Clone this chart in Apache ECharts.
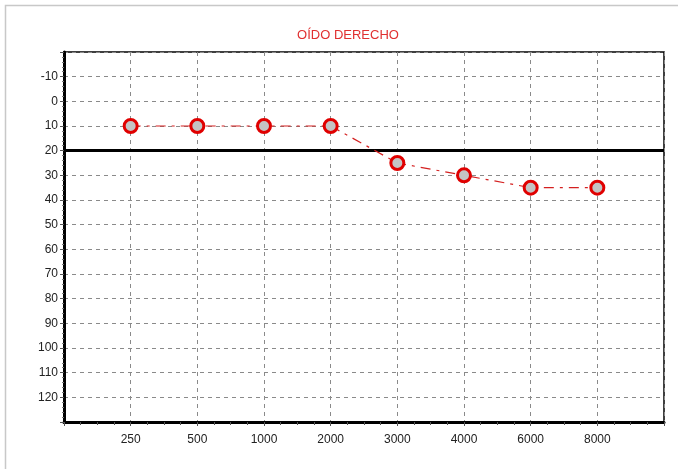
<!DOCTYPE html>
<html>
<head>
<meta charset="utf-8">
<script src="https://cdn.jsdelivr.net/npm/echarts@6/dist/echarts.min.js"></script>
<style>html,body{margin:0;padding:0;background:#fff}#c{width:678px;height:469px}</style>
</head>
<body>
<div id="c"></div>
<script>
var categories = ['250', '500', '1000', '2000', '3000', '4000', '6000', '8000'];
var positions = [1, 2, 3, 4, 5, 6, 7, 8];
var thresholds = [10, 10, 10, 10, 25, 30, 35, 35];
var yTicks = [-10, 0, 10, 20, 30, 40, 50, 60, 70, 80, 90, 100, 110, 120];
var referenceLevel = 20;

var font = "'Liberation Sans', Arial, sans-serif";
var chart = echarts.init(document.getElementById('c'));
var data = positions.map(function (p, i) { return [p, thresholds[i]]; });

chart.setOption({
  animation: false,
  title: {
    text: 'OÍDO DERECHO', left: 343, top: 24, textAlign: 'center',
    textStyle: { color: '#e03030', fontSize: 13, fontWeight: 'normal', fontFamily: font }
  },
  graphic: [{
    type: 'rect', shape: { x: 5.5, y: 5.5, width: 700, height: 500 },
    style: { fill: 'none', stroke: '#c8c8c8', lineWidth: 1.5 }, silent: true
  }],
  grid: { left: 64, right: 14, top: 52, bottom: 47, show: true, borderColor: '#000', borderWidth: 1.5, backgroundColor: '#fff' },
  xAxis: {
    type: 'value', min: 0, max: 9, interval: 1,
    axisLine: { show: true, onZero: false, lineStyle: { color: '#000', width: 3 } },
    axisTick: { show: true, length: 4, lineStyle: { color: '#555' } },
    minorTick: { show: true, splitNumber: 4, length: 3, lineStyle: { color: '#555' } },
    splitLine: { show: true, lineStyle: { color: '#8a8a8a', type: [4, 4], width: 1 } },
    axisLabel: {
      color: '#222', fontSize: 12, fontFamily: font, margin: 12,
      formatter: function (v) { var i = positions.indexOf(v); return i >= 0 ? categories[i] : ''; }
    }
  },
  yAxis: {
    type: 'value', inverse: true, min: -20, max: 130, interval: 10,
    axisLine: { show: true, onZero: false, lineStyle: { color: '#000', width: 3 } },
    axisTick: { show: true, length: 4, lineStyle: { color: '#555' } },
    minorTick: { show: true, splitNumber: 5, length: 2, lineStyle: { color: '#777' } },
    splitLine: { show: true, lineStyle: { color: '#8a8a8a', type: [4, 4], width: 1 } },
    axisLabel: {
      color: '#222', fontSize: 12, fontFamily: font, margin: 6,
      formatter: function (v) { return yTicks.indexOf(v) >= 0 ? String(v) : ''; }
    }
  },
  series: [{
    type: 'line', data: data,
    symbol: 'circle', symbolSize: 13,
    lineStyle: { color: '#d42020', width: 1.2, type: [10, 6, 3, 6] },
    itemStyle: { color: '#c4c4c4', borderColor: '#e00000', borderWidth: 3 },
    z: 5,
    markLine: {
      silent: true, symbol: 'none', label: { show: false },
      lineStyle: { color: '#000', width: 3, type: 'solid' },
      data: [{ yAxis: referenceLevel }]
    }
  }]
});
</script>
</body>
</html>
